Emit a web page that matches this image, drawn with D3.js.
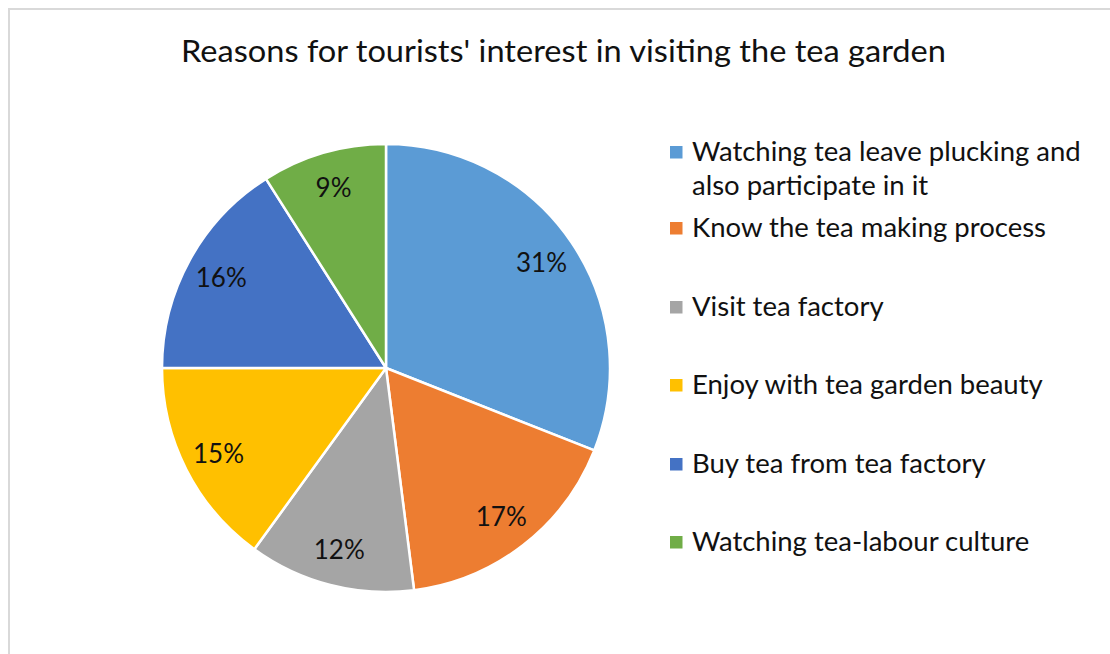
<!DOCTYPE html>
<html>
<head>
<meta charset="utf-8">
<script src="https://cdn.jsdelivr.net/npm/d3@7/dist/d3.min.js"></script>
<style>
  html, body { margin: 0; padding: 0; background: #fff; }
  svg { display: block; }
  text { font-family: Lato, "Open Sans", sans-serif; fill: #111; }
</style>
</head>
<body>
<svg id="chart" width="1110" height="654"></svg>
<script>
// Survey shares (percent), clockwise from 12 o'clock
const categories = [
  "Watching tea leave plucking and also participate in it",
  "Know the tea making process",
  "Visit tea factory",
  "Enjoy with tea garden beauty",
  "Buy tea from tea factory",
  "Watching tea-labour culture"
];
const shares = [31, 17, 12, 15, 16, 9];
const sliceColors = ["#5B9BD5", "#ED7D31", "#A5A5A5", "#FFC000", "#4472C4", "#70AD47"];
const chartTitle = "Reasons for tourists' interest in visiting the tea garden";

const svg = d3.select("#chart");

// chart area frame (runs off the right and bottom edges)
svg.append("rect")
  .attr("x", 9).attr("y", 9)
  .attr("width", 1120).attr("height", 660)
  .attr("fill", "#fff")
  .attr("stroke", "#d9d9d9")
  .attr("stroke-width", 2);

// title, condensed to the frame's title width
svg.append("text")
  .attr("x", 563.5).attr("y", 62)
  .attr("text-anchor", "middle")
  .attr("textLength", 765)
  .attr("lengthAdjust", "spacingAndGlyphs")
  .style("font-size", "31px")
  .text(chartTitle);

// pie
const cx = 386, cy = 368, radius = 224;
const data = categories.map((c, i) => ({ name: c, value: shares[i], color: sliceColors[i] }));
const pie = d3.pie().sort(null).value(d => d.value).startAngle(0).endAngle(2 * Math.PI);
const arcs = pie(data);
const arc = d3.arc().innerRadius(0).outerRadius(radius);
const labelArc = d3.arc().innerRadius(188).outerRadius(188);

const g = svg.append("g").attr("transform", `translate(${cx},${cy})`);
g.selectAll("path.slice")
  .data(arcs)
  .join("path")
  .attr("class", "slice")
  .attr("d", arc)
  .attr("fill", d => d.data.color)
  .attr("stroke", "#fff")
  .attr("stroke-width", 2.5)
  .attr("stroke-linejoin", "round");

g.selectAll("text.pct")
  .data(arcs)
  .join("text")
  .attr("class", "pct")
  .attr("transform", d => `translate(${labelArc.centroid(d)})`)
  .attr("text-anchor", "middle")
  .attr("dy", "0.36em")
  .style("font-size", "26px")
  .text(d => d3.format(".0f")(d.data.value) + "%");

// legend
const legendX = 670, textX = 692, maxLine = 400;
const legendRows = [161, 237, 316, 394, 473, 551];
const lineGap = 34;
const legend = svg.append("g");
data.forEach((d, i) => {
  const base = legendRows[i];
  legend.append("rect")
    .attr("x", legendX).attr("y", base - 15)
    .attr("width", 12.5).attr("height", 12.5)
    .attr("fill", d.color);
  const t = legend.append("text")
    .attr("x", textX).attr("y", base)
    .style("font-size", "27.5px");
  // wrap into lines that fit the legend column
  const words = d.name.split(" ");
  let line = [];
  let tspan = t.append("tspan").attr("x", textX).attr("y", base);
  let lineNo = 0;
  words.forEach(w => {
    line.push(w);
    tspan.text(line.join(" "));
    if (tspan.node().getComputedTextLength() > maxLine && line.length > 1) {
      line.pop();
      tspan.text(line.join(" "));
      line = [w];
      lineNo++;
      tspan = t.append("tspan").attr("x", textX).attr("y", base + lineNo * lineGap).text(w);
    }
  });
});
</script>
</body>
</html>
